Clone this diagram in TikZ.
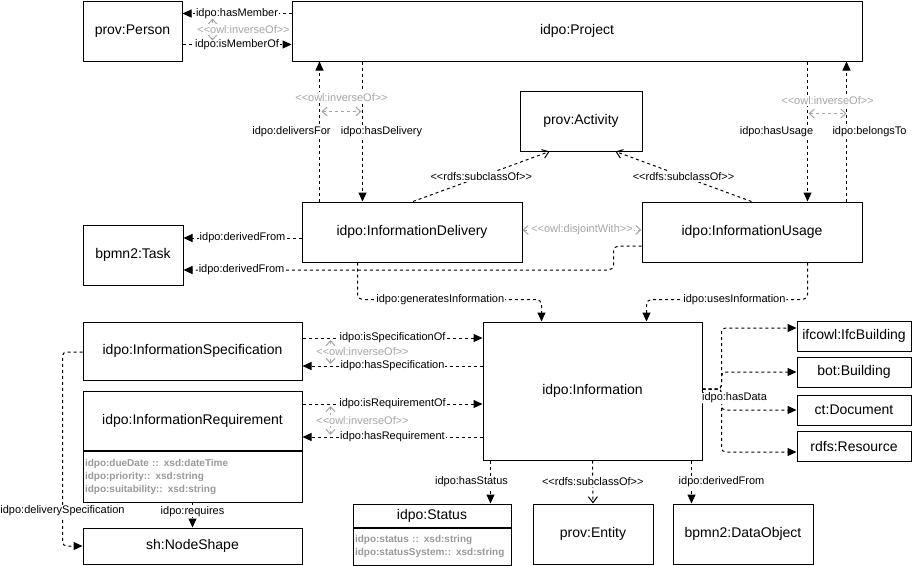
\documentclass[tikz,border=0pt]{standalone}
\usepackage{fontspec}
\setmainfont{Liberation Sans}[Ligatures=TeXOff]
\usetikzlibrary{arrows.meta,calc,positioning}

\begin{document}
\begin{tikzpicture}[x=1pt,y=-1pt]
   \tikzstyle{box}=[draw,line width=1pt,inner sep=0pt,font=\fontsize{14}{16}\selectfont]
   \tikzstyle{attr}=[draw,line width=1pt,inner xsep=2pt,inner ysep=0pt,align=left,text=black!40,font=\bfseries\fontsize{10}{13}\selectfont]
   \tikzstyle{arrow}=[draw,line width=1pt,dash pattern=on 3pt off 3pt,-{Triangle[length=9pt,width=8pt]}]
   \tikzstyle{sub}=[draw,line width=1pt,dash pattern=on 3pt off 3pt,-{Straight Barb[length=6pt,width=9pt]}]
   \tikzstyle{inv}=[draw,black!35,line width=1pt,dash pattern=on 3pt off 3pt,{Straight Barb[length=5pt,width=9pt]}-{Straight Barb[length=5pt,width=9pt]}]
   \tikzstyle{lbl}=[fill=white,inner sep=1pt,text=black,font=\fontsize{11}{13}\selectfont]
   \tikzstyle{glbl}=[lbl,text=black!35]
   \useasboundingbox (0,0) rectangle (913,565) ;
   \node (person) [box,minimum width=99pt,minimum height=60pt] at (132.5,31) {prov:Person} ;
   \node (project) [box,minimum width=570pt,minimum height=60pt] at (577,31) {idpo:Project} ;
   \node (activity) [box,minimum width=122pt,minimum height=60pt] at (581,121) {prov:Activity} ;
   \node (delivery) [box,minimum width=220pt,minimum height=60pt] at (412,232) {idpo:InformationDelivery} ;
   \node (usage) [box,minimum width=220pt,minimum height=60pt] at (752,232) {idpo:InformationUsage} ;
   \node (task) [box,minimum width=100pt,minimum height=60pt] at (133,255) {bpmn2:Task} ;
   \node (spec) [box,minimum width=219pt,minimum height=58pt] at (192.5,351) {idpo:InformationSpecification} ;
   \node (req) [box,minimum width=219pt,minimum height=59pt] at (192.5,420.5) {idpo:InformationRequirement} ;
   \node (reqattr) [attr,text width=215pt,minimum height=51pt,below=0pt of req] {idpo:dueDate :: xsd:dateTime\\idpo:priority:: xsd:string\\idpo:suitability:: xsd:string} ;
   \node (info) [box,minimum width=219pt,minimum height=138pt] at (592.5,391) {idpo:Information} ;
   \node (ifc) [box,minimum width=114pt,minimum height=30pt] at (854,336) {ifcowl:IfcBuilding} ;
   \node (bot) [box,minimum width=114pt,minimum height=30pt] at (854,372) {bot:Building} ;
   \node (ct) [box,minimum width=114pt,minimum height=30pt] at (854,410) {ct:Document} ;
   \node (rdfs) [box,minimum width=114pt,minimum height=30pt] at (854,446) {rdfs:Resource} ;
   \node (shape) [box,minimum width=219pt,minimum height=36pt] at (192.5,546) {sh:NodeShape} ;
   \node (status) [box,minimum width=158pt,minimum height=23pt] at (432,515.5) {idpo:Status} ;
   \node (statusattr) [attr,text width=154pt,minimum height=37pt,below=0pt of status] {idpo:status :: xsd:string\\idpo:statusSystem:: xsd:string} ;
   \node (entity) [box,minimum width=120pt,minimum height=60pt] at (593,534) {prov:Entity} ;
   \node (dataobj) [box,minimum width=140pt,minimum height=60pt] at (743,534) {bpmn2:DataObject} ;
   \path [arrow] ($(project.north west)+(0,13)$) -- node [lbl] {idpo:hasMember} ($(person.north east)+(0,13)$) ;
   \path [arrow] ($(person.north east)+(0,44)$) -- node [lbl] {idpo:isMemberOf} ($(project.north west)+(0,44)$) ;
   \path [inv] ($(person.north east)+(30,18)$) -- node [glbl,xshift=31pt] {<<owl:inverseOf>>} ($(person.north east)+(30,40)$) ;
   \path [arrow] ($(delivery.north west)+(18,0)$) -- node [lbl,xshift=-28pt] {idpo:deliversFor} ($(project.south west)+(28,0)$) ;
   \path [arrow] ($(project.south west)+(71,0)$) -- node [lbl,xshift=19pt] {idpo:hasDelivery} ($(delivery.north west)+(61,0)$) ;
   \path [inv] ($(project.south west)+(30,50)$) -- node [glbl,yshift=14pt] {<<owl:inverseOf>>} ($(project.south west)+(70,50)$) ;
   \path [arrow] ($(project.south west)+(516,0)$) -- node [lbl,xshift=-31pt] {idpo:hasUsage} ($(usage.north west)+(166,0)$) ;
   \path [arrow] ($(usage.north west)+(205,0)$) -- node [lbl,xshift=23pt] {idpo:belongsTo} ($(project.south west)+(555,0)$) ;
   \path [inv] ($(project.south west)+(517,52)$) -- node [glbl,yshift=13pt] {<<owl:inverseOf>>} ($(project.south west)+(555,52)$) ;
   \path [sub] ($(delivery.north)+(1,0)$) -- node [lbl] {<<rdfs:subclassOf>>} ($(activity.south west)+(30,0)$) ;
   \path [sub] ($(usage.north west)+(110,0)$) -- node [lbl] {<<rdfs:subclassOf>>} ($(activity.south east)+(-27,0)$) ;
   \path [inv] ($(delivery.east)+(0,-2)$) -- node [glbl] {<<owl:disjointWith>>} ($(usage.west)+(0,-2)$) ;
   \path [arrow] ($(delivery.west)+(0,6)$) -- node [lbl] {idpo:derivedFrom} ($(task.east)+(0,-17)$) ;
   \path [arrow,rounded corners=5pt] ($(usage.west)+(0,14)$) -| ($(task.east)+(430,15)$) -- node [lbl,pos=0.865] {idpo:derivedFrom} ($(task.east)+(0,15)$) ;
   \path [arrow,rounded corners=5pt] ($(delivery.south west)+(56,0)$) |- node [lbl,pos=0.725] {idpo:generatesInformation} ($(info.north west)+(59,-22)$) -- ($(info.north west)+(59,0)$) ;
   \path [arrow,rounded corners=5pt] ($(usage.south west)+(166,0)$) |- node [lbl,pos=0.727] {idpo:usesInformation} ($(info.north west)+(164,-22)$) -- ($(info.north west)+(164,0)$) ;
   \path [arrow] ($(spec.east)+(0,-13)$) -- node [lbl] {idpo:isSpecificationOf} ($(info.west)+(0,-53)$) ;
   \path [arrow] ($(info.west)+(0,-25)$) -- node [lbl] {idpo:hasSpecification} ($(spec.east)+(0,15)$) ;
   \path [inv] ($(spec.east)+(28,-11)$) -- node [glbl,xshift=32pt] {<<owl:inverseOf>>} ($(spec.east)+(28,13)$) ;
   \path [arrow] ($(req.east)+(0,-16.5)$) -- node [lbl] {idpo:isRequirementOf} ($(info.west)+(0,13)$) ;
   \path [arrow] ($(info.west)+(0,46)$) -- node [lbl] {idpo:hasRequirement} ($(req.east)+(0,16.5)$) ;
   \path [inv] ($(req.east)+(28,-14.5)$) -- node [glbl,xshift=32pt] {<<owl:inverseOf>>} ($(req.east)+(28,14.5)$) ;
   \path [arrow,rounded corners=4pt] ($(info.east)+(0,-2)$) -| ($(ifc.west)+(-75,-8)$) -- ($(ifc.west)+(0,-8)$) ;
   \path [arrow,rounded corners=4pt] ($(info.east)+(0,-2)$) -| ($(bot.west)+(-75,0)$) -- (bot.west) ;
   \path [arrow,rounded corners=4pt] ($(info.east)+(0,-2)$) -| ($(ct.west)+(-75,0)$) -- (ct.west) ;
   \path [arrow,rounded corners=4pt] ($(info.east)+(0,-2)$) -| node [lbl,pos=0.5,xshift=13pt,yshift=-9pt] {idpo:hasData} ($(rdfs.west)+(-75,6)$) -- ($(rdfs.west)+(0,6)$) ;
   \path [arrow,rounded corners=4pt] ($(spec.west)+(0,1)$) -| node [lbl,pos=0.91] {idpo:deliverySpecification} ($(shape.west)+(-20,0)$) -- (shape.west) ;
   \path [arrow] (reqattr.south) -- node [lbl,pos=0.35] {idpo:requires} (shape.north) ;
   \path [arrow] ($(info.south west)+(8,0)$) -- node [lbl,xshift=-19pt] {idpo:hasStatus} ($(status.north west)+(138,0)$) ;
   \path [sub] (info.south) -- node [lbl] {<<rdfs:subclassOf>>} (entity.north) ;
   \path [arrow] ($(info.south west)+(209,0)$) -- node [lbl,xshift=30pt] {idpo:derivedFrom} ($(dataobj.north west)+(19,0)$) ;
\end{tikzpicture}
\end{document}
